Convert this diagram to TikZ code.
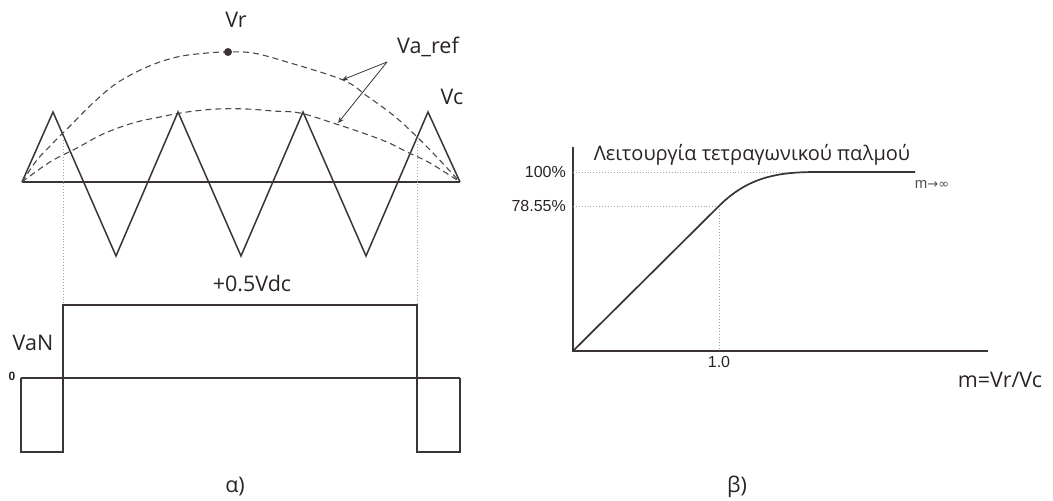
\documentclass[tikz,border=0pt]{standalone}
\usepackage{fontspec}
\setmainfont{Open Sans}
\newfontfamily\arialf{Liberation Sans}
\newfontfamily\dejavu{DejaVu Sans}
\usetikzlibrary{arrows.meta}
\definecolor{ln}{HTML}{3A3433}
\definecolor{dl}{HTML}{4A4A4A}
\definecolor{tx}{HTML}{2A2522}
\begin{document}
\begin{tikzpicture}[x=1pt,y=-1pt,
  wave/.style={draw=ln,line width=1.5pt,line join=miter},
  ref/.style={draw=dl,line width=1.1pt,dash pattern=on 6pt off 4pt},
  guide/.style={draw=gray!70,line width=0.9pt,dotted},
  lbl/.style={inner sep=0pt,text=tx,font=\fontsize{21.5}{25}\selectfont},
  small/.style={inner sep=0pt,text=tx,font=\arialf\fontsize{16}{19}\selectfont},
  pointer/.style={draw=ln,line width=0.8pt,-{Stealth[open,length=6pt,width=5pt]}}]
\useasboundingbox (0,0) rectangle (1053,501);
\fill[white] (0,0) rectangle (1053,501);

% ---------- panel (a) ----------
\draw[wave] (22,182) -- (460,182);
\draw[wave] (22,182) -- (53,112) -- (116,256) -- (178,112) -- (241,256)
  -- (303,112) -- (366,256) -- (428,112) -- (460,182);
\draw[ref] plot[smooth,tension=0.6] coordinates {(22,182) (37,160) (53,143) (73,123) (93,103) (117,83) (147,67) (177,57) (207,53) (228,52) (253,53) (287,62) (343,80) (367,96) (393,115) (413,133) (433,153) (460,182)};
\draw[ref] plot[smooth,tension=0.6] coordinates {(22,182) (50,162) (77,148) (103,134) (133,123) (160,117) (187,112) (217,109) (247,109) (273,111) (300,113) (333,123) (360,132) (387,142) (407,152) (430,163) (460,182)};
\fill[ln] (228,52) circle (4pt);
\coordinate (pbig) at (342,80);
\coordinate (psmall) at (338,123);
\node[lbl] (vr) at (236,20) {Vr};
\node[lbl] (varef) at (428,47) {Va\_ref};
\node[lbl] (vc) at (452,97) {Vc};
\coordinate (apex) at (387,62);
\draw[pointer] (apex) -- (pbig);
\draw[pointer] (apex) -- (psmall);

% dotted projections
\draw[guide] (63,137) -- (63,305);
\draw[guide] (417,138) -- (417,305);

% square wave
\draw[wave] (21,378) -- (460,378);
\draw[wave] (21,378) -- (21,452) -- (63,452) -- (63,305) -- (417,305)
  -- (417,452) -- (460,452) -- (460,378);
\node[lbl] (vdc) at (252,283) {+0.5Vdc};
\node[lbl] (van) at (33,343) {VaN};
\node[small,font=\arialf\bfseries\fontsize{12}{14}\selectfont] (zero) at (12,376) {0};
\node[lbl] (alpha) at (235,487) {α)};

% ---------- panel (b) ----------
\coordinate (O) at (573,351);
\coordinate (ytop) at (573,147);
\coordinate (xend) at (988,351);
\draw[wave] (ytop) -- (O) -- (xend);
\draw[guide] (573,172) -- (817,172);
\draw[guide] (573,206) -- (719,206);
\draw[guide] (719,206) -- (719,351);
\draw[wave,line width=1.7pt] (O) -- (719,206) .. controls (749,176) and (780,172) .. (817,172) -- (915,172);
\node[small,anchor=east] (p100) at (566,172) {100\%};
\node[small,anchor=east] (p78) at (566,206) {78.55\%};
\node[small] (one) at (719,362) {1.0};
\node[small,font=\arialf\fontsize{15}{17}\selectfont,text=tx!80] (minf) at (932,184) {m{\dejavu\fontsize{13}{15}\selectfont →∞}};
\node[lbl,font=\fontsize{20}{24}\selectfont] (title) at (752,155) {Λειτουργία τετραγωνικού παλμού};
\node[lbl] (mratio) at (1000,380) {m=Vr/Vc};
\node[lbl] (beta) at (737,487) {β)};
\end{tikzpicture}
\end{document}
